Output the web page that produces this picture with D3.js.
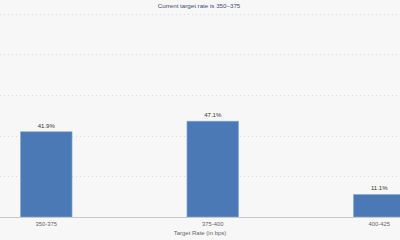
<!DOCTYPE html>
<html>
<head>
<meta charset="utf-8">
<script src="https://cdn.jsdelivr.net/npm/d3@7"></script>
<style>
  html, body { margin: 0; padding: 0; background: #f7f7f7; }
  svg { display: block; font-family: "Liberation Sans", Arial, sans-serif; }
</style>
</head>
<body>
<script>
var categories = ["350-375", "375-400", "400-425"];
var probs = [41.9, 47.1, 11.1];
var yTicks = [0, 20, 40, 60, 80, 100];

var width = 400, height = 240;

var svg = d3.select("body").append("svg")
    .attr("width", width)
    .attr("height", height);

svg.append("rect")
    .attr("width", width)
    .attr("height", height)
    .attr("fill", "#f7f7f7");

// chart runs past the right edge, only 3 buckets visible
var x = d3.scaleBand()
    .domain(categories)
    .range([-37, 462.5])
    .paddingInner(0.69)
    .paddingOuter(0.345);

var y = d3.scaleLinear()
    .domain([0, 100])
    .range([217, 13.5]);

// gridlines
svg.append("g").selectAll("line")
    .data(yTicks.filter(function (d) { return d > 0; }))
    .enter().append("line")
    .attr("x1", 0)
    .attr("x2", width)
    .attr("y1", function (d) { return Math.round(y(d)) + 0.5; })
    .attr("y2", function (d) { return Math.round(y(d)) + 0.5; })
    .attr("stroke", "#dadada")
    .attr("stroke-dasharray", "1,3");

// bars
svg.append("g").selectAll("rect")
    .data(probs)
    .enter().append("rect")
    .attr("x", function (d, i) { return x(categories[i]); })
    .attr("y", function (d) { return y(d); })
    .attr("width", x.bandwidth())
    .attr("height", function (d) { return y(0) - y(d); })
    .attr("fill", "#4b79b6")
    .attr("stroke", "#8fb0d8")
    .attr("stroke-width", 0.6);

// baseline
svg.append("line")
    .attr("x1", 0)
    .attr("x2", width)
    .attr("y1", y(0) + 0.5)
    .attr("y2", y(0) + 0.5)
    .attr("stroke", "#c8c8c8");

// value labels
svg.append("g").selectAll("text")
    .data(probs)
    .enter().append("text")
    .attr("x", function (d, i) { return x(categories[i]) + x.bandwidth() / 2; })
    .attr("y", function (d) { return y(d) - 4; })
    .attr("text-anchor", "middle")
    .attr("font-size", 6)
    .attr("fill", "#333")
    .text(function (d) { return d.toFixed(1) + "%"; });

// x tick labels
svg.append("g").selectAll("text")
    .data(categories)
    .enter().append("text")
    .attr("x", function (d) { return x(d) + x.bandwidth() / 2; })
    .attr("y", 226)
    .attr("text-anchor", "middle")
    .attr("font-size", 5.8)
    .attr("fill", "#666")
    .text(function (d) { return d; });

// axis title
svg.append("text")
    .attr("x", 200)
    .attr("y", 235)
    .attr("text-anchor", "middle")
    .attr("font-size", 6)
    .attr("fill", "#666")
    .text("Target Rate (in bps)");

// title
svg.append("text")
    .attr("x", 199)
    .attr("y", 8)
    .attr("text-anchor", "middle")
    .attr("font-size", 6.2)
    .attr("fill", "#3e4a78")
    .text("Current target rate is 350\u2013375");
</script>
</body>
</html>
